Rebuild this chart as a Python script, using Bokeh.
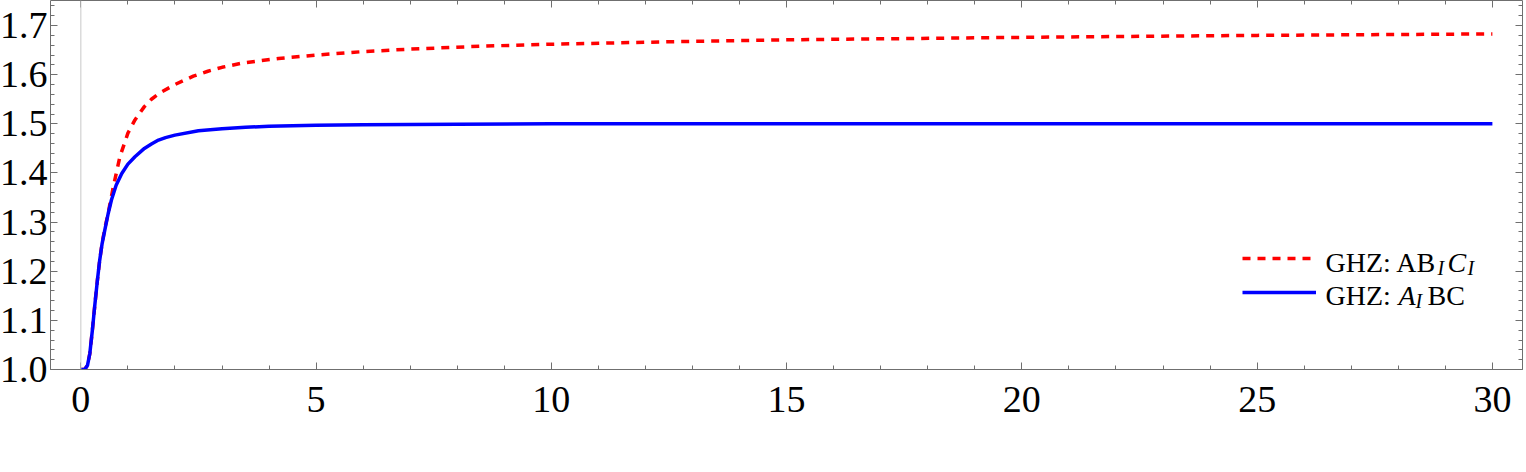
from bokeh.plotting import figure
from bokeh.models import (LinearAxis, FixedTicker, Span, Legend, LegendItem,
                          Label, Range1d)
from bokeh.embed import file_html
from bokeh.resources import INLINE

# ---------------- data ----------------
x_ab = [0, 0.08, 0.14, 0.19, 0.245, 0.30, 0.35, 0.40, 0.45, 0.51, 0.58, 0.69,
        0.83, 1.0, 1.15, 1.35, 1.5, 1.68, 2.0, 2.39, 2.7, 3.0, 3.45, 4.2, 5.0,
        6.0, 7.0, 8.5, 10.0, 12.5, 15.0, 20.0, 25.0, 30.0]
y_ab = [1.0, 1.0, 1.008, 1.032, 1.08, 1.134, 1.18, 1.222, 1.256, 1.287, 1.318,
        1.372, 1.433, 1.481, 1.508, 1.535, 1.550, 1.563, 1.58, 1.597, 1.607,
        1.615, 1.624, 1.633, 1.640, 1.647, 1.652, 1.658, 1.662, 1.667, 1.671,
        1.676, 1.680, 1.683]

x_a = [0, 0.08, 0.14, 0.19, 0.245, 0.30, 0.35, 0.40, 0.45, 0.51, 0.58, 0.65,
       0.75, 0.87, 1.0, 1.15, 1.35, 1.5, 1.65, 1.8, 2.0, 2.5, 3.0, 3.5, 4.0,
       5.0, 6.0, 8.0, 10.0, 15.0, 20.0, 25.0, 30.0]
y_a = [1.0, 1.0, 1.008, 1.032, 1.08, 1.134, 1.18, 1.222, 1.255, 1.284, 1.317,
       1.345, 1.375, 1.399, 1.418, 1.433, 1.450, 1.459, 1.467, 1.472, 1.477,
       1.486, 1.490, 1.493, 1.495, 1.497, 1.498, 1.499, 1.5, 1.5, 1.5, 1.5,
       1.5]

x_ticks = [0, 5, 10, 15, 20, 25, 30]
x_minor = list(range(0, 31))
y_ticks = [1.0, 1.1, 1.2, 1.3, 1.4, 1.5, 1.6, 1.7]
y_tick_labels = ["1.0", "1.1", "1.2", "1.3", "1.4", "1.5", "1.6", "1.7"]
y_minor = [round(1.0 + 0.02 * i, 2) for i in range(38)]

# ---------------- styling ----------------
GREY = "#6f6f6f"
FONT = "Liberation Serif"
TICK_FS = "38px"
LEG_FS = "28px"
SUB_FS = "20px"

p = figure(width=1530, height=464,
           x_range=Range1d(-0.645, 30.64), y_range=Range1d(1.0, 1.751),
           output_backend="svg", toolbar_location=None,
           min_border_left=51, min_border_right=4, min_border_top=0,
           min_border_bottom=95, margin=(0, 0, 0, -4))
p.xaxis.visible = False
p.yaxis.visible = False
p.grid.visible = False
p.outline_line_color = None
p.background_fill_color = "white"
p.border_fill_color = "white"


def style_axis(ax, labels=True):
    ax.axis_line_color = GREY
    ax.axis_line_width = 1
    ax.major_tick_line_color = GREY
    ax.minor_tick_line_color = GREY
    ax.major_tick_in = 7
    ax.major_tick_out = 0
    ax.minor_tick_in = 4
    ax.minor_tick_out = 0
    ax.major_label_text_font = FONT
    if labels:
        ax.major_label_text_color = "black"
        ax.major_label_text_font_size = TICK_FS
    else:
        ax.major_label_text_color = None
        ax.major_label_text_font_size = "1px"
        ax.major_label_standoff = 0


xt = FixedTicker(ticks=x_ticks, minor_ticks=x_minor)
yt = FixedTicker(ticks=y_ticks, minor_ticks=y_minor)

xb = LinearAxis(ticker=xt)
style_axis(xb)
xb.major_label_standoff = 17
p.add_layout(xb, "below")

xa = LinearAxis(ticker=xt)
style_axis(xa, labels=False)
p.add_layout(xa, "above")

yl = LinearAxis(ticker=yt)
style_axis(yl)
yl.major_label_standoff = 3
yl.major_label_overrides = {t: l for t, l in zip(y_ticks, y_tick_labels)}
p.add_layout(yl, "left")

yr = LinearAxis(ticker=yt)
style_axis(yr, labels=False)
p.add_layout(yr, "right")

p.add_layout(Span(location=0, dimension="height", line_color="#c8c8c8",
                  line_width=1))

r_ab = p.line(x_ab, y_ab, line_color="#ff0000", line_width=3.5,
              line_dash="8 7")
r_a = p.line(x_a, y_a, line_color="#0000ff", line_width=3.5)

legend = Legend(items=[LegendItem(label=" ", renderers=[r_ab]),
                       LegendItem(label=" ", renderers=[r_a])],
                location=(1192, 67), glyph_width=74, glyph_height=20,
                label_height=20, spacing=14, padding=0, margin=0,
                border_line_color=None, background_fill_alpha=0,
                label_text_font_size="1px", label_text_color=None,
                label_width=0, label_standoff=0)
p.add_layout(legend)

# legend texts (rich text built from fragments)
frags = [
    # text, x, y, size, style
    ("GHZ: AB", 1275, 107, LEG_FS, "normal"),
    ("I", 1387, 102, SUB_FS, "italic"),
    ("C", 1397, 107, LEG_FS, "italic"),
    ("I", 1417, 102, SUB_FS, "italic"),
    ("GHZ: ", 1275, 74, LEG_FS, "normal"),
    ("A", 1348, 74, LEG_FS, "italic"),
    ("I", 1365, 69, SUB_FS, "italic"),
    ("BC", 1377, 74, LEG_FS, "normal"),
]
for t, x, y, fs, st in frags:
    p.add_layout(Label(text=t, x=x, y=y, x_units="screen", y_units="screen",
                       text_font=FONT, text_font_size=fs, text_font_style=st,
                       text_baseline="alphabetic", text_color="black"))

open("out.html", "w").write(file_html(p, INLINE))
